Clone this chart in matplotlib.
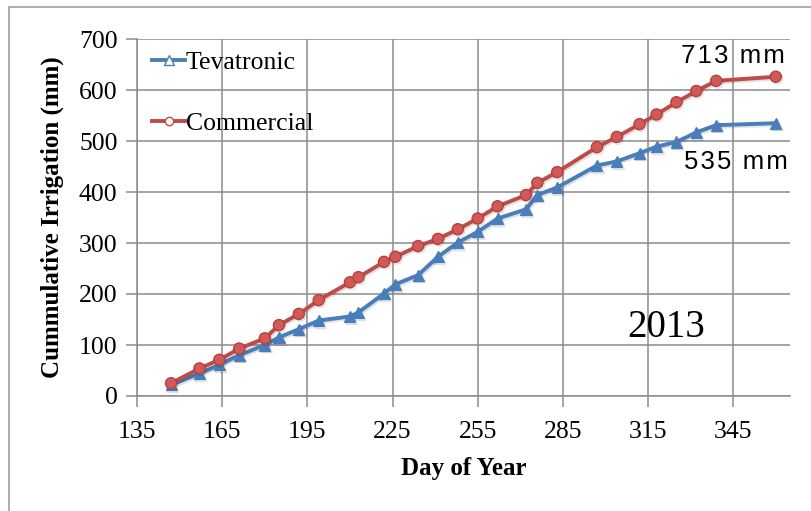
import numpy as np
import matplotlib.pyplot as plt
import matplotlib.patheffects as pe
from matplotlib.lines import Line2D
from matplotlib.patches import Rectangle

# Day of year of each irrigation reading
days = [147, 157, 164, 171, 180, 185, 192, 199, 210, 213, 222, 226, 234, 241,
        248, 255, 262, 272, 276, 283, 297, 304, 312, 318, 325, 332, 339, 360]
# Cumulative irrigation (mm)
tevatronic = [22, 44, 61, 80, 100, 115, 131, 148, 156, 164, 201, 219, 237, 273,
              301, 322, 348, 366, 394, 409, 452, 460, 476, 489, 498, 517, 531, 535]
commercial = [25, 54, 71, 93, 113, 139, 161, 188, 223, 233, 263, 273, 294, 308,
              327, 348, 372, 394, 418, 439, 488, 508, 533, 552, 576, 598, 618, 626]

xticks = [135, 165, 195, 225, 255, 285, 315, 345]
yticks = [0, 100, 200, 300, 400, 500, 600, 700]

blue = '#4A7EBB'
red = '#BE4B48'
serif = 'Liberation Serif'
sans = ['Liberation Sans', 'DejaVu Sans']

def spaced(s):
    # Excel drew these labels with wide letter spacing
    return '\u200a'.join(s)

def main():
    fig = plt.figure(figsize=(8.12, 5.11), dpi=100)
    # chart area border
    fig.patches.append(Rectangle((9/812, -0.1), 1.2, 1 - 7/511 + 0.1,
                                 transform=fig.transFigure, fill=False,
                                 edgecolor='#A0A0A0', lw=1.2))
    ax = fig.add_axes([137/812, 1 - 396/511, (790 - 137)/812, (396 - 39)/511])

    shadow = [pe.SimpleLineShadow(offset=(1, -1.2), alpha=0.12), pe.Normal()]
    ax.plot(days, tevatronic, color=blue, lw=2.8, marker='^', ms=8,
            mfc=blue, mec=blue, path_effects=shadow, zorder=3)
    ax.plot(days, commercial, color=red, lw=2.8, marker='o', ms=8,
            mfc='#D05A57', mec='#B8403D', path_effects=shadow, zorder=4)

    ax.set_xlim(135, 365)
    ax.set_ylim(0, 700)
    ax.set_xticks(xticks)
    ax.set_yticks(yticks)
    ax.grid(True, color='#8C8C8C', lw=1.1)
    ax.set_axisbelow(True)
    for s in ['top', 'right']:
        ax.spines[s].set_visible(False)
    for s in ['left', 'bottom']:
        ax.spines[s].set_color('#8C8C8C')
        ax.spines[s].set_linewidth(1.1)
    ax.tick_params(length=8, width=1.1, color='#8C8C8C', pad=6)
    ax.tick_params(axis='x', pad=10)
    for lab in ax.get_xticklabels() + ax.get_yticklabels():
        lab.set_fontfamily(serif)
        lab.set_fontsize(18.5)

    ax.set_xlabel('Day of Year', fontfamily=serif, fontsize=18,
                  fontweight='bold', labelpad=10)
    ax.set_ylabel('Cummulative Irrigation (mm)', fontfamily=serif, fontsize=18,
                  fontweight='bold', labelpad=11)

    handles = [Line2D([], [], color=blue, lw=2.8, marker='^', ms=7,
                      mfc='white', mec=blue),
               Line2D([], [], color=red, lw=2.8, marker='o', ms=6,
                      mfc='white', mec=red)]
    ax.legend(handles, ['Tevatronic', 'Commercial'], loc='upper left',
              bbox_to_anchor=(0.006, 1.0), frameon=False,
              prop={'family': serif, 'size': 18.5}, handlelength=1.25,
              handletextpad=0.05, labelspacing=1.5, borderaxespad=0.0,
              borderpad=0.45)

    gap = '\u200a \u200a'
    fig.text(785/812, 1 - 56/511, spaced('713') + gap + spaced('mm'),
             fontsize=18.5, ha='right', va='center', family=sans)
    fig.text(788/812, 1 - 162/511, spaced('535') + gap + spaced('mm'),
             fontsize=18.5, ha='right', va='center', family=sans)
    fig.text(666/812, 1 - 327/511, '2013', fontsize=28, ha='center',
             va='center', family=serif)

    fig.savefig('out.png', dpi=100)

if __name__ == "__main__":
    main()
